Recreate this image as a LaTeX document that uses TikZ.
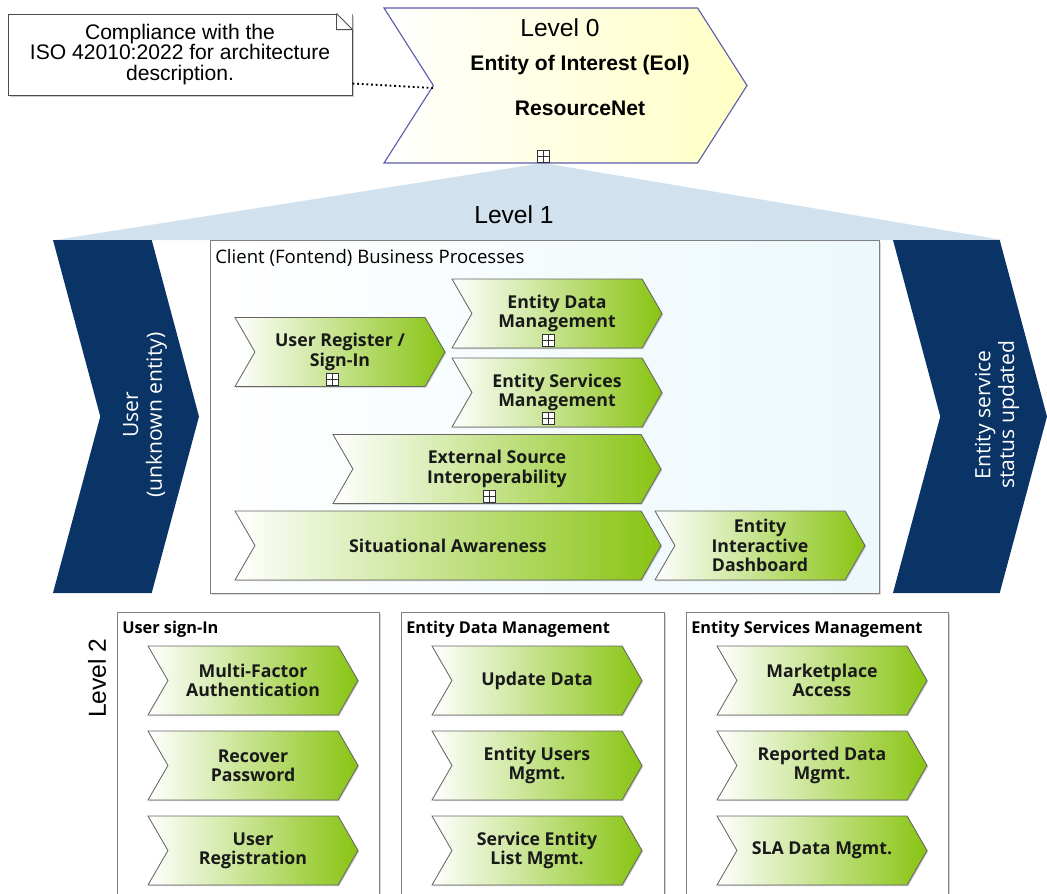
\documentclass[tikz,border=0pt]{standalone}
\usepackage{fontspec}
\setmainfont{Liberation Sans}
\newfontfamily\osans{Open Sans}
\usepackage{tikz}
\usetikzlibrary{shapes.symbols}
\usetikzlibrary{shadows}
\usetikzlibrary{calc}
\usetikzlibrary{positioning}

\definecolor{chevgreen}{RGB}{136,196,18}
\definecolor{navy}{RGB}{10,52,102}
\definecolor{lvlblue}{RGB}{209,225,238}
\definecolor{eoiline}{RGB}{92,92,172}
\definecolor{eoifill}{RGB}{255,255,196}
\definecolor{boxline}{RGB}{128,128,128}
\definecolor{clientfill}{RGB}{236,248,252}

\tikzset{
  chev/.style={shape=signal,signal from=west,signal to=east,signal pointer angle=120,
    draw=black!60,line width=0.6pt,left color=white,right color=chevgreen,
    minimum height=69*0.025cm,minimum width=210*0.025cm,inner sep=0pt,
    align=center,font=\osans\bfseries\fontsize{12.6}{13.8}\selectfont,text=black!90,
    drop shadow={shadow xshift=0.8pt,shadow yshift=-0.8pt,opacity=0.4}},
  navychev/.style={shape=signal,signal from=west,signal to=east,signal pointer angle=150,
    fill=navy,minimum height=353*0.025cm,inner sep=0pt},
  navytxt/.style={rotate=90,text=white,align=center,font=\osans\fontsize{15}{17}\selectfont},
  eoi/.style={shape=signal,signal from=west,signal to=east,signal pointer angle=115,
    draw=eoiline,line width=0.8pt,left color=white,right color=eoifill,
    minimum height=155*0.025cm,minimum width=363*0.025cm,inner sep=0pt},
  plusbox/.style={draw=black!80,fill=white,line width=0.5pt,minimum size=12*0.025cm,inner sep=0pt,
    path picture={\draw[line width=0.5pt] (path picture bounding box.north) -- (path picture bounding box.south)
      (path picture bounding box.west) -- (path picture bounding box.east);}},
  lvltxt/.style={font=\fontsize{17.5}{20}\selectfont},
  eoitxt/.style={font=\bfseries\fontsize{15}{18}\selectfont},
  notebox/.style={draw=black!70,fill=white,line width=0.7pt,align=center,
    font=\fontsize{15}{14.6}\selectfont,
    drop shadow={shadow xshift=1.2pt,shadow yshift=-1.2pt,opacity=0.4}},
  clientbox/.style={draw=boxline,line width=0.7pt,left color=white,right color=clientfill,
    drop shadow={shadow xshift=0.8pt,shadow yshift=-0.8pt,opacity=0.3}},
  grpbox/.style={draw=boxline,line width=0.7pt,fill=white,anchor=north west,
    drop shadow={shadow xshift=0.8pt,shadow yshift=-0.8pt,opacity=0.3}},
  grptitle/.style={anchor=west,inner sep=0pt,font=\osans\fontsize{13.2}{15}\selectfont},
  subtitle/.style={grptitle,font=\osans\bfseries\fontsize{11.6}{14}\selectfont}
}

\begin{document}
\begin{tikzpicture}[x=0.025cm,y=-0.025cm]
\useasboundingbox (0,0) rectangle (1047,894);

% fan from level 0 down to level 1
\fill[lvlblue] (543,163) -- (1003,240) -- (55,240) -- cycle;

% level 0
\node (lvl0) at (565.5,85.5) [eoi] {};
\node (lvl0t) at (560,28) [lvltxt] {Level 0};
\node (eoi) at (580,65) [eoitxt] {Entity of Interest (EoI)};
\node (rnet) at (580,108) [eoitxt] {ResourceNet};
\node (p0) at (543,156) [plusbox] {};
\coordinate (notch) at (433,88);

% annotation
\node (note) at (180,54.5) [notebox,minimum width=344*0.025cm,minimum height=81*0.025cm] {Compliance with the\\ISO 42010:2022 for architecture\\description.};
\fill[white] ($(note.north east)+(-16,0)$) -- (note.north east) -- ($(note.north east)+(0,16)$) -- cycle;
\draw[black!70,line width=0.7pt] ($(note.north east)+(-16,0)$) -- ($(note.north east)+(0,16)$)
  ($(note.north east)+(-16,0)$) -- ($(note.north east)+(-16,16)$) -- ($(note.north east)+(0,16)$);
\draw[dotted,line width=1.3pt] ([yshift=8.5pt]note.south east) -- (notch);

% level 1
\node (lvl1t) at (514,215) [lvltxt] {Level 1};

\node (user) at (126,416.5) [navychev,minimum width=146*0.025cm] {};
\node (usertxt) at (145,415) [navytxt] {User\\(unknown entity)};
\node (status) at (970,416.5) [navychev,minimum width=154*0.025cm] {};
\node (statustxt) at (997,415) [navytxt] {Entity service\\status updated};

\node (client) at (210,240) [anchor=north west,clientbox,minimum width=669*0.025cm,minimum height=353*0.025cm] {};
\node (clienttl) at (215,258) [grptitle] {Client (Fontend) Business Processes};

\node (reg) at (340,352) [chev] {User Register /\\Sign-In};
\node (edm) at (557,313.5) [chev] {Entity Data\\Management};
\node (esm) at (557,392.5) [chev] {Entity Services\\Management};
\node (ext) at (497,469) [chev,minimum width=328*0.025cm] {External Source\\Interoperability};
\node (sit) at (448,545.5) [chev,minimum width=426*0.025cm] {Situational Awareness};
\node (dash) at (760,545.5) [chev] {Entity\\Interactive\\Dashboard};

\node (p1) at (332,379) [plusbox] {};
\node (p2) at (548,340) [plusbox] {};
\node (p3) at (548,418) [plusbox] {};
\node (p4) at (489,496) [plusbox] {};

% level 2
\node (lvl2t) at (97,678) [lvltxt,rotate=90] {Level 2};

\node (signin) at (117,612) [grpbox,minimum width=262*0.025cm,minimum height=300*0.025cm] {};
\node (datamg) at (401,612) [grpbox,minimum width=263*0.025cm,minimum height=300*0.025cm] {};
\node (servmg) at (686,612) [grpbox,minimum width=262*0.025cm,minimum height=300*0.025cm] {};
\node (signintl) at (122,629) [subtitle] {User sign-In};
\node (datamgtl) at (406,629) [subtitle] {Entity Data Management};
\node (servmgtl) at (691,629) [subtitle] {Entity Services Management};

\foreach \nm/\x/\y/\txt in {mfa/253/680.5/{Multi-Factor\\Authentication}, recpw/253/765.5/{Recover\\Password},
  ureg/253/850.5/{User\\Registration}, upd/537/680.5/{Update Data}, eusr/537/765.5/{Entity Users\\Mgmt.},
  slist/537/850.5/{Service Entity\\List Mgmt.}, mkt/822/680.5/{Marketplace\\Access},
  rep/822/765.5/{Reported Data\\Mgmt.}, sla/822/850.5/{SLA Data Mgmt.}}
  \node (\nm) at (\x,\y) [chev] {\txt};

\end{tikzpicture}
\end{document}
